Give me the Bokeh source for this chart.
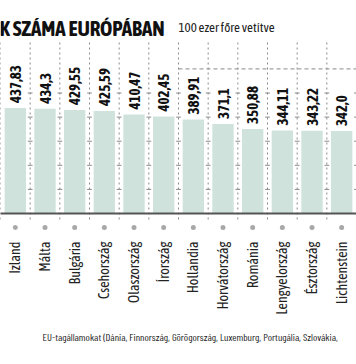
import math
from bokeh.plotting import figure
from bokeh.models import FactorRange, Range1d, Label, ColumnDataSource
from bokeh.transform import dodge
from bokeh.core.properties import value
from bokeh.embed import file_html
from bokeh.resources import INLINE

# ---- data ----
countries = ["Izland", "Málta", "Bulgária", "Csehország", "Olaszország", "Írország",
             "Hollandia", "Horvátország", "Románia", "Lengyelország", "Észtország", "Lichtenstein"]
values = [437.83, 434.3, 429.55, 425.59, 410.47, 402.45, 389.91, 371.1, 350.88, 344.11, 343.22, 342.0]
value_labels = ["437,83", "434,3", "429,55", "425,59", "410,47", "402,45",
                "389,91", "371,1", "350,88", "344,11", "343,22", "342,0"]
grid_values = [100, 200, 300, 400, 500]
top_line_value = 600
title_text = "K SZÁMA EURÓPÁBAN"
subtitle_text = "100 ezer főre vetítve"
footer_text = "EU-tagállamokat (Dánia, Finnország, Görögország, Luxemburg, Portugália, Szlovákia,"

# ---- layout ----
W, H = 356, 364
BASE_PX = 213          # pixel row of the zero line
U = 4.15               # value units per pixel
FONT = "Asap Condensed"
FONT2 = "Barlow Condensed"

p = figure(width=W, height=H, output_backend="svg", toolbar_location=None,
           x_range=FactorRange(factors=countries, range_padding=0),
           y_range=Range1d(-(H - BASE_PX) * U, BASE_PX * U),
           min_border=0, outline_line_color=None)
p.axis.visible = False
p.grid.visible = False
p.background_fill_color = "white"

n = len(countries)
src = ColumnDataSource(dict(country=countries, value=values, label=value_labels,
                            zero=[0] * n, dot=[-14 * U] * n,
                            vtop=[715] * n, vbot=[-6 * U] * n))

grid_col = "#8a8a8a"
# vertical dashed separators
p.segment(x0=dodge("country", 0.5, range=p.x_range), x1=dodge("country", 0.5, range=p.x_range),
          y0="vbot", y1="vtop", source=src, line_color=grid_col, line_width=1, line_dash="2 3")
first = ColumnDataSource(dict(country=[countries[0]], vbot=[-6 * U], vtop=[715]))
p.segment(x0=dodge("country", -0.5, range=p.x_range), x1=dodge("country", -0.5, range=p.x_range),
          y0="vbot", y1="vtop", source=first, line_color=grid_col, line_width=1, line_dash="2 3")

# short horizontal grid ticks at the separators
tc, ty = [], []
for c in countries:
    for g in grid_values:
        tc.append(c)
        ty.append(g)
ticks = ColumnDataSource(dict(country=tc, y=ty))
p.segment(x0=dodge("country", 0.42, range=p.x_range), x1=dodge("country", 0.58, range=p.x_range),
          y0="y", y1="y", source=ticks, line_color=grid_col, line_width=1)

# dashed line at 600 from Hollandia onward
tl = ColumnDataSource(dict(a=[countries[6]], b=[countries[-1]], y=[top_line_value]))
p.segment(x0=dodge("a", -0.5, range=p.x_range), x1=dodge("b", 0.5, range=p.x_range),
          y0="y", y1="y", source=tl, line_color=grid_col, line_width=1, line_dash="4 3")

# bars
p.vbar(x="country", top="value", bottom=0, width=0.72, source=src,
       fill_color="#cfe3dc", line_color=None)

# baseline
bl = ColumnDataSource(dict(a=[countries[0]], b=[countries[-1]], y=[0]))
p.segment(x0=dodge("a", -0.5, range=p.x_range), x1=dodge("b", 0.5, range=p.x_range),
          y0="y", y1="y", source=bl, line_color="#555555", line_width=2)

# value labels
p.text(x="country", y="value", text="label", source=src, angle=math.pi / 2,
       text_align="left", text_baseline="middle", y_offset=-5,
       text_font=value(FONT), text_font_style="bold", text_font_size="15px",
       text_color="#111111")

# dots under the axis
p.scatter(x="country", y="dot", source=src, size=5, fill_color="#a8a8a8", line_color=None)

# country labels
p.text(x="country", y="zero", text="country", source=src, angle=math.pi / 2,
       text_align="right", text_baseline="middle", y_offset=28,
       text_font=value(FONT), text_font_size="14px", text_color="#222222")

# title, subtitle, footer
p.add_layout(Label(x=-1, y=H - 27, x_units="screen", y_units="screen", text=title_text,
                   text_font=FONT, text_font_style="bold", text_font_size="21px",
                   text_color="#111111", text_baseline="alphabetic"))
p.add_layout(Label(x=178, y=H - 27, x_units="screen", y_units="screen", text=subtitle_text,
                   text_font=FONT, text_font_size="13px",
                   text_color="#222222", text_baseline="alphabetic"))
p.add_layout(Label(x=42, y=H - 336, x_units="screen", y_units="screen", text=footer_text,
                   text_font=FONT2, text_font_size="10.4px",
                   text_color="#222222", text_baseline="alphabetic"))

open("out.html", "w").write(file_html(p, INLINE))
